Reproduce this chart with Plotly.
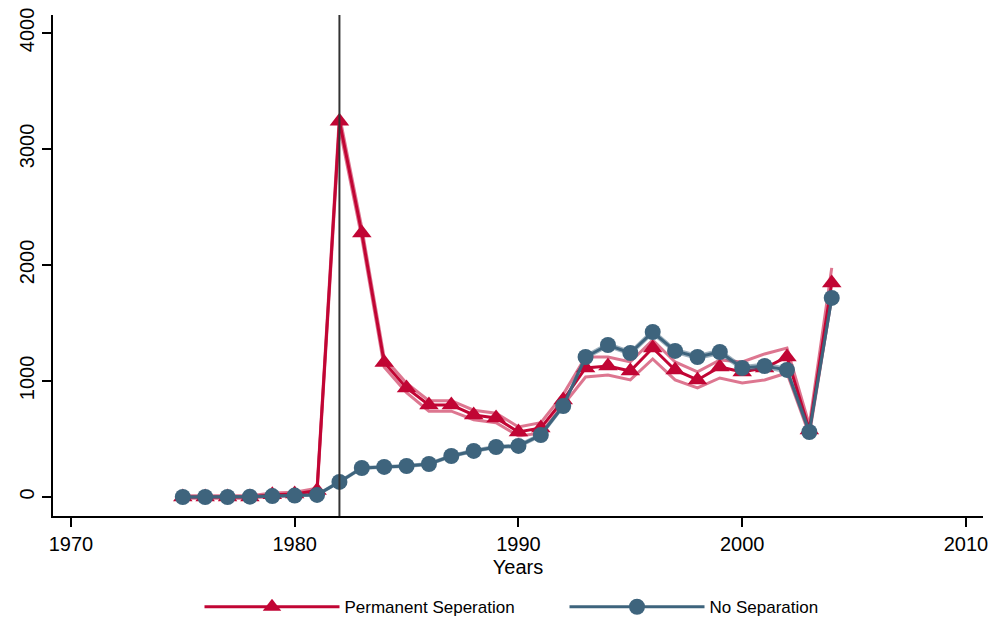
import plotly.graph_objects as go

years = list(range(1975, 2005))

perm_sep = [0, 0, 0, 0, 20, 25, 55, 3240, 2276, 1160, 940, 793, 793, 707, 681,
            560, 595, 836, 1112, 1129, 1086, 1284, 1095, 1009, 1121, 1078, 1112, 1207, 578, 1845]
perm_upper = [10, 10, 10, 10, 35, 40, 75, 3290, 2320, 1200, 980, 830, 830, 748, 722,
              603, 640, 885, 1207, 1207, 1164, 1353, 1164, 1078, 1181, 1164, 1233, 1284, 620, 1975]
perm_lower = [-10, -10, -10, -10, 5, 10, 35, 3190, 2232, 1120, 900, 740, 740, 666, 640,
              526, 550, 790, 1034, 1052, 1009, 1190, 1009, 940, 1026, 983, 1009, 1069, 536, 1720]

no_sep = [0, 0, 0, 3, 8, 12, 18, 130, 250, 259, 267, 284, 353, 397, 431,
          440, 534, 784, 1207, 1310, 1241, 1422, 1259, 1207, 1250, 1112, 1129, 1095, 560, 1716]
no_upper = [5, 5, 5, 8, 13, 18, 24, 138, 258, 267, 276, 293, 362, 407, 441,
            451, 546, 797, 1222, 1326, 1257, 1440, 1276, 1224, 1268, 1130, 1148, 1115, 580, 1740]
no_lower = [-5, -5, -5, -2, 3, 6, 12, 122, 242, 251, 258, 275, 344, 387, 421,
            429, 522, 771, 1192, 1294, 1225, 1404, 1242, 1190, 1232, 1094, 1110, 1075, 540, 1692]

event_year = 1982
x_ticks = [1970, 1980, 1990, 2000, 2010]
y_ticks = [0, 1000, 2000, 3000, 4000]

RED = "#C10534"
RED_CI = "rgba(193,5,52,0.55)"
BLUE = "#3E647D"
BLUE_CI = "rgba(62,100,125,0.5)"

fig = go.Figure()

for arr in (perm_upper, perm_lower):
    fig.add_trace(go.Scatter(x=years, y=arr, mode="lines",
                             line=dict(color=RED_CI, width=3), showlegend=False,
                             hoverinfo="skip"))
fig.add_trace(go.Scatter(x=years, y=perm_sep, mode="lines+markers",
                         name="Permanent Seperation",
                         line=dict(color=RED, width=3),
                         marker=dict(symbol="triangle-up", size=17, color=RED)))
for arr in (no_upper, no_lower):
    fig.add_trace(go.Scatter(x=years, y=arr, mode="lines",
                             line=dict(color=BLUE_CI, width=2), showlegend=False,
                             hoverinfo="skip"))
fig.add_trace(go.Scatter(x=years, y=no_sep, mode="lines+markers",
                         name="No Separation",
                         line=dict(color=BLUE, width=3),
                         marker=dict(symbol="circle", size=16, color=BLUE)))

fig.add_vline(x=event_year, line=dict(color="#333333", width=2))

font = "Liberation Sans, Arial, sans-serif"
fig.update_layout(
    width=989, height=613,
    margin=dict(l=45, r=14, t=7, b=105, autoexpand=False),
    plot_bgcolor="white", paper_bgcolor="white",
    font=dict(family=font, color="black", size=20),
    xaxis=dict(range=[1969.2, 2010.76], tickvals=x_ticks, ticks="outside",
               ticklen=9, tickwidth=1.5, tickcolor="black", automargin=False,
               showline=True, linecolor="black", linewidth=1.5,
               showgrid=False, zeroline=False, ticklabeloverflow="allow",
               title=dict(text="Years", standoff=6, font=dict(size=20)),
               tickfont=dict(size=20)),
    yaxis=dict(range=[-164, 4155], tickvals=y_ticks, ticks="outside",
               ticklen=9, tickwidth=1.5, tickcolor="black", tickangle=-90,
               showline=True, linecolor="black", linewidth=1.5, automargin=False,
               showgrid=False, zeroline=False, ticklabeloverflow="allow",
               tickfont=dict(size=20)),
    legend=dict(orientation="h", x=0.55, xanchor="center", y=-0.182, yanchor="middle",
                font=dict(size=17), itemwidth=135, entrywidth=215,
                bgcolor="rgba(0,0,0,0)"),
)

fig.write_html("out.html")
